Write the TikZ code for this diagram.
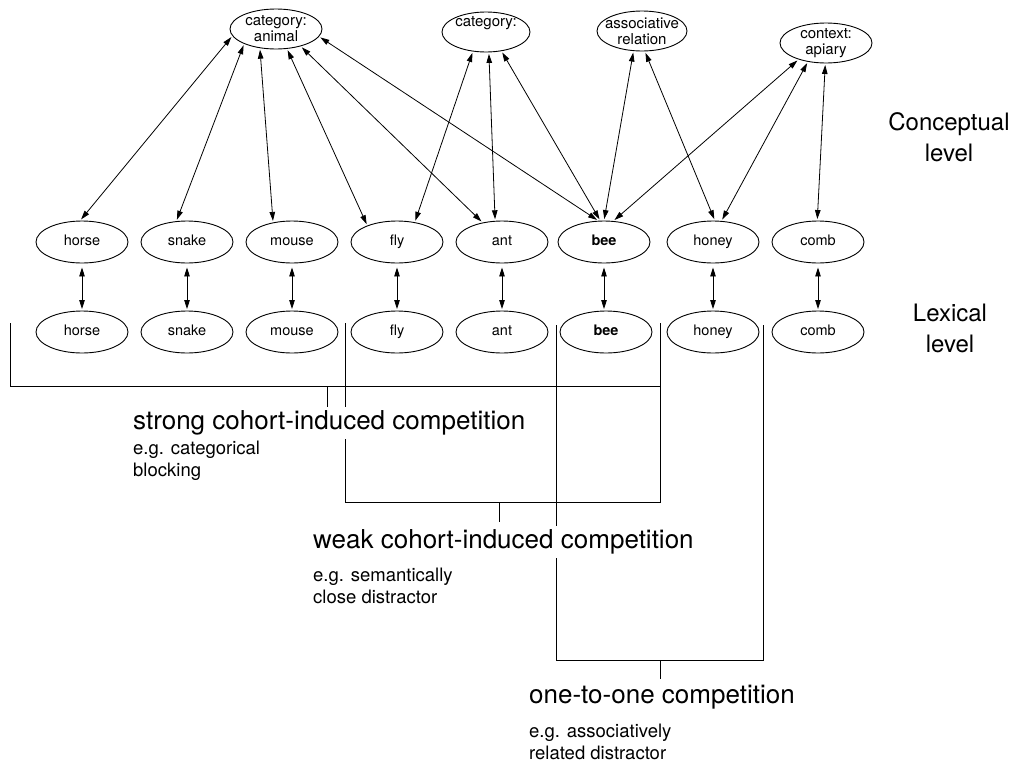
\documentclass[tikz,border=0pt]{standalone}
\usepackage{fontspec}
\setmainfont{TeX Gyre Heros}
\usetikzlibrary{arrows.meta,shapes.geometric}

\tikzset{
  concept/.style={ellipse, draw, line width=0.9pt, minimum width=92pt, minimum height=40pt,
    inner xsep=-10pt, inner ysep=-6pt, align=center, font=\fontsize{15}{16}\selectfont},
  word/.style={ellipse, draw, line width=0.9pt, minimum width=92pt, minimum height=42pt,
    inner sep=0pt, text height=10.5pt, text depth=3pt, font=\fontsize{14.5}{16}\selectfont},
  link/.style={{Triangle[length=9pt,width=5.5pt]}-{Triangle[length=9pt,width=5.5pt]},
    line width=0.8pt, shorten <=1.5pt, shorten >=1.5pt},
  bracket/.style={line width=0.8pt},
  compete/.style={anchor=west, fill=white, inner xsep=0pt, inner ysep=4pt,
    font=\fontsize{26}{30}\selectfont},
  example/.style={anchor=west, align=left, inner sep=0pt, font=\fontsize{18.5}{22}\selectfont},
  level/.style={align=center, font=\fontsize{24}{31}\selectfont}
}

\begin{document}
\begin{tikzpicture}[x=1pt, y=-1pt]
  \useasboundingbox (0,0) rectangle (1017,763);

  % Conceptual nodes
  \node[concept] (animal) at (276,29) {category:\\animal};
  \node[concept, minimum width=88pt] (insect) at (486,32) {category:\\\strut};
  \node[concept, minimum width=90pt] (assoc) at (642,31) {associative\\relation};
  \node[concept] (apiary) at (826,43) {context:\\apiary};

  % Words at the conceptual level
  \node[word] (whorse) at (82,242) {horse};
  \node[word] (wsnake) at (187,242) {snake};
  \node[word] (wmouse) at (292,242) {mouse};
  \node[word] (wfly) at (397,242) {fly};
  \node[word] (want) at (502,242) {ant};
  \node[word] (wbee) at (604,242) {\textbf{bee}};
  \node[word] (whoney) at (713,242) {honey};
  \node[word] (wcomb) at (818,242) {comb};

  % Words at the lexical level
  \node[word] (lhorse) at (82,332) {horse};
  \node[word] (lsnake) at (187,332) {snake};
  \node[word] (lmouse) at (292,332) {mouse};
  \node[word] (lfly) at (397,332) {fly};
  \node[word] (lant) at (502,332) {ant};
  \node[word] (lbee) at (606,332) {\textbf{bee}};
  \node[word] (lhoney) at (713,332) {honey};
  \node[word] (lcomb) at (818,332) {comb};

  % Concept links
  \draw[link] (animal.189) -- (whorse.95);
  \draw[link] (animal.205) -- (wsnake.117);
  \draw[link] (animal.230) -- (wmouse.134);
  \draw[link] (animal.299) -- (wfly.151);
  \draw[link] (animal.325) -- (want.135);
  \draw[link] (animal.350) -- (wbee.105);
  \draw[link] (insect.236) -- (wfly.48);
  \draw[link] (insect.278) -- (want.108);
  \draw[link] (insect.309) -- (wbee.100);
  \draw[link] (assoc.247) -- (wbee.90);
  \draw[link] (assoc.278) -- (whoney.85);
  \draw[link] (apiary.211) -- (wbee.66);
  \draw[link] (apiary.226) -- (whoney.68);
  \draw[link] (apiary.268) -- (wcomb.92);

  % Conceptual to lexical
  \draw[link, shorten <=4pt] (whorse) -- (lhorse);
  \draw[link, shorten <=4pt] (wsnake) -- (lsnake);
  \draw[link, shorten <=4pt] (wmouse) -- (lmouse);
  \draw[link, shorten <=4pt] (wfly) -- (lfly);
  \draw[link, shorten <=4pt] (want) -- (lant);
  \draw[link, shorten <=4pt] (wbee.south) -- (wbee.south |- lbee.north);
  \draw[link, shorten <=4pt] (whoney) -- (lhoney);
  \draw[link, shorten <=4pt] (wcomb) -- (lcomb);

  % Competition brackets
  \draw[bracket] (10,323) -- (10,386) -- (660,386);
  \draw[bracket] (327,386) -- (327,407);
  \draw[bracket] (345,323) -- (345,502) -- (660,502) -- (660,323);
  \draw[bracket] (499,502) -- (499,522);
  \draw[bracket] (556,325) -- (556,660) -- (763,660) -- (763,325);
  \draw[bracket] (660,660) -- (660,679);

  % Competition labels
  \node[compete] (strong) at (133,423) {strong cohort-induced competition};
  \node[example] (strongeg) at (133,461) {e.g. categorical\\blocking};
  \node[compete] (weak) at (313,542) {weak cohort-induced competition};
  \node[example] (weakeg) at (313,586) {e.g. semantically\\close distractor};
  \node[compete] (onetoone) at (529,697) {one-to-one competition};
  \node[example] (onetooneeg) at (529,741.5) {e.g. associatively\\related distractor};

  % Levels
  \node[level] (conceptual) at (949,137.5) {Conceptual\\level};
  \node[level] (lexical) at (950,328) {Lexical\\level};
\end{tikzpicture}
\end{document}
